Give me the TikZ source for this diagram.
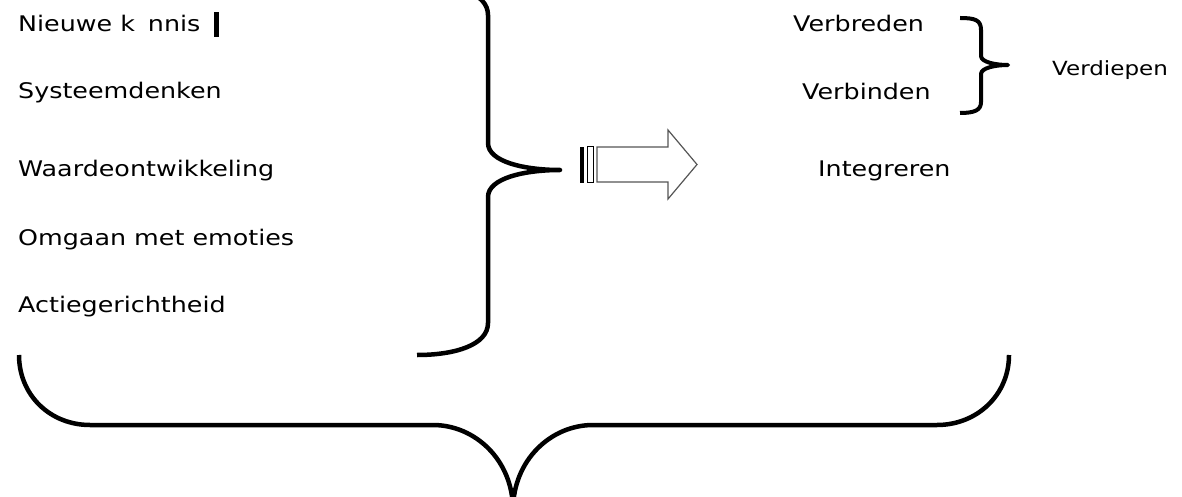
\documentclass[tikz,border=0pt]{standalone}
\usepackage{fontspec}
\newfontfamily\dvfont[FakeStretch=1.18]{DejaVu Sans}
\definecolor{arrgray}{RGB}{85,85,85}
\begin{document}
\begin{tikzpicture}[x=1pt,y=-1pt,
  lbl/.style={anchor=base west,inner sep=0pt,font=\dvfont\fontsize{21.5}{25}\selectfont},
  lblsmall/.style={anchor=base west,inner sep=0pt,font=\dvfont\fontsize{19.5}{23}\selectfont},
  brc/.style={line width=4.5pt,line join=round},
  brcsmall/.style={line width=4pt,line join=round},
  arrline/.style={draw=arrgray,line width=1.2pt,fill=white}]
\useasboundingbox (0,0) rectangle (1182,497);
\clip (0,0) rectangle (1182,497);
% left column
\node[lbl] (t1) at (18,32) {Nieuwe k\hspace{0.6em}nnis};
\fill (214,12) rectangle (218.5,37);
\node[lbl] (t2) at (18,99) {Systeemdenken};
\node[lbl] (t3) at (18,177) {Waardeontwikkeling};
\node[lbl] (t4) at (18,245) {Omgaan met emoties};
\node[lbl] (t5) at (18,312) {Actiegerichtheid};
% right column
\node[lbl] (r1) at (793,32) {Verbreden};
\node[lbl] (r2) at (802,100) {Verbinden};
\node[lblsmall] (r3) at (1052,76) {Verdiepen};
\node[lbl] (r4) at (818,177) {Integreren};
% middle brace
\draw[brc] (417,-17) .. controls (455,-17) and (488,-7) .. (488,15) -- (488,143)
  .. controls (488,162) and (525,170) .. (560,170)
  .. controls (525,170) and (488,178) .. (488,197) -- (488,323)
  .. controls (488,345) and (455,355) .. (417,355);
% small brace
\draw[brcsmall] (960,18) .. controls (975,18) and (981,20) .. (981,30) -- (981,56)
  .. controls (981,62) and (995,65) .. (1008,65)
  .. controls (995,65) and (981,68) .. (981,74) -- (981,102)
  .. controls (981,110) and (975,113) .. (960,113);
% big bottom brace
\draw[brc] (19,355) .. controls (19,395) and (50,425) .. (90,425) -- (433,425)
  .. controls (475,425) and (513,460) .. (513,510)
  .. controls (513,460) and (551,425) .. (593,425) -- (937,425)
  .. controls (977,425) and (1009,395) .. (1009,355);
% arrow
\fill (580,147) rectangle (584,183);
\draw[draw=black,line width=1pt] (587,147) rectangle (593,183);
\draw[arrline] (597,147) -- (668,147) -- (668,130) -- (697,164.5) -- (668,199) -- (668,182) -- (597,182) -- cycle;
\end{tikzpicture}
\end{document}
